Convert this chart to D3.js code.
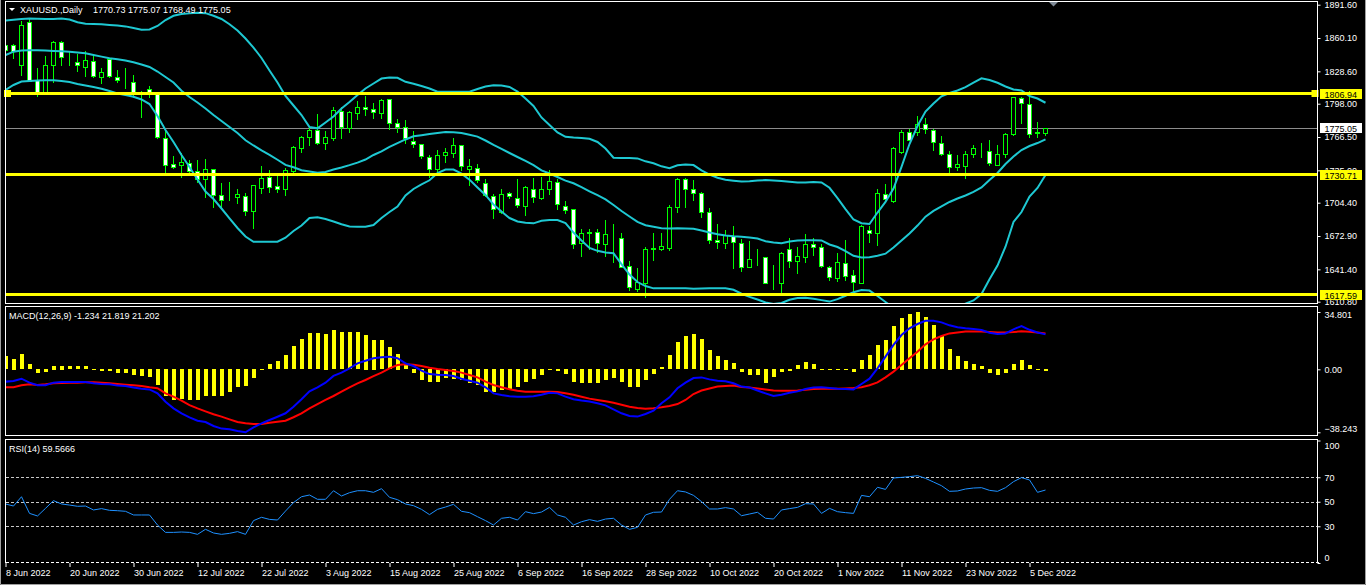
<!DOCTYPE html>
<html><head><meta charset="utf-8">
<script src="https://cdn.jsdelivr.net/npm/d3@7/dist/d3.min.js"></script>
<style>
html,body{margin:0;padding:0;background:#000;overflow:hidden}
svg{display:block}
text{font-family:"Liberation Sans",Arial,sans-serif;font-size:9px}
</style></head><body>
<svg id="c" width="1366" height="585"></svg>
<script>
// ---------- DATA (daily bars, 8 Jun 2022 .. 7 Dec 2022) ----------
const opens = [1853.5,1853.5,1834.6,1874.9,1820.4,1809.3,1834.6,1856.6,1838.4,1837.4,
1833.0,1838.4,1822.9,1840.3,1822.9,1819.5,1818.2,1806.2,1811.6,1806.9,
1765.3,1741.0,1740.0,1741.6,1734.7,1726.5,1736.0,1711.7,1709.1,1710.1,
1711.0,1696.8,1718.6,1729.0,1720.2,1717.1,1734.7,1755.8,1766.2,1773.1,
1761.1,1765.3,1791.1,1774.7,1788.9,1794.6,1792.7,1788.9,1802.1,1780.0,
1776.3,1763.0,1759.6,1747.3,1736.0,1749.2,1751.1,1758.6,1736.0,1736.9,
1723.3,1711.0,1695.9,1713.3,1709.1,1701.6,1717.6,1708.5,1717.6,1724.2,
1701.6,1698.1,1666.0,1675.4,1676.4,1665.1,1672.9,1670.7,1644.8,1622.5,
1628.8,1660.3,1660.9,1661.3,1700.0,1726.5,1717.1,1713.3,1695.9,1669.1,
1666.0,1672.9,1666.0,1643.9,1651.8,1652.8,1629.4,1628.2,1660.3,1649.6,
1653.3,1665.1,1662.2,1643.3,1632.9,1647.1,1635.7,1628.8,1678.6,1675.5,
1712.3,1706.3,1752.6,1771.5,1771.0,1778.5,1773.1,1760.6,1750.2,1737.9,
1739.4,1750.2,1754.9,1753.3,1740.0,1750.4,1769.1,1803.1,1797.4,1771.5,1770.73];
const highs = [1861.3,1855.7,1877.1,1878.7,1833.0,1844.0,1858.2,1858.2,1848.8,1845.6,
1848.8,1844.0,1833.0,1842.4,1830.5,1833.0,1826.1,1810.9,1815.7,1809.3,
1773.1,1749.5,1752.6,1745.4,1745.4,1746.4,1736.9,1724.2,1725.2,1718.0,
1714.8,1721.1,1740.0,1736.0,1733.7,1738.4,1759.0,1768.4,1776.2,1788.9,
1773.1,1795.8,1795.8,1792.0,1801.5,1806.2,1799.9,1803.1,1802.7,1784.2,
1783.2,1773.1,1759.9,1750.4,1754.9,1757.3,1766.8,1759.9,1746.4,1742.2,
1727.5,1713.3,1718.0,1715.7,1727.5,1721.1,1728.4,1729.6,1736.0,1727.5,
1707.0,1699.1,1680.8,1680.8,1680.2,1688.7,1685.5,1676.4,1650.2,1643.9,
1663.4,1677.0,1677.0,1703.2,1729.0,1729.0,1726.5,1715.5,1700.6,1684.9,
1679.2,1683.3,1670.7,1669.1,1661.3,1654.3,1646.4,1659.0,1671.7,1663.4,
1675.5,1671.7,1666.6,1645.5,1657.5,1669.8,1641.4,1684.3,1683.3,1718.0,
1723.3,1758.3,1774.1,1775.3,1787.3,1785.1,1775.3,1768.4,1754.2,1750.4,
1754.2,1759.9,1762.1,1764.3,1759.9,1771.0,1805.3,1805.3,1811.0,1781.6,1775.07];
const lows = [1844.0,1840.9,1825.1,1819.5,1805.3,1809.3,1818.8,1834.6,1834.6,1829.2,
1824.2,1823.5,1817.3,1823.5,1818.8,1812.5,1804.0,1785.7,1804.6,1765.3,
1732.2,1736.9,1729.0,1732.2,1724.2,1710.0,1700.6,1700.6,1707.0,1703.8,
1692.8,1680.8,1713.3,1714.8,1714.8,1711.7,1733.7,1752.6,1759.0,1759.9,
1754.9,1763.7,1765.3,1771.5,1783.2,1787.3,1784.2,1784.2,1773.8,1771.5,
1760.6,1757.3,1746.4,1729.0,1733.7,1743.1,1747.9,1735.3,1721.1,1724.2,
1710.7,1689.7,1694.4,1708.6,1700.0,1692.8,1705.3,1707.6,1712.6,1698.2,
1694.4,1661.3,1654.0,1660.3,1658.1,1654.0,1648.6,1643.9,1621.9,1621.2,
1615.5,1650.2,1659.7,1659.7,1695.9,1700.6,1707.0,1691.2,1666.0,1661.3,
1661.3,1642.9,1640.1,1643.9,1645.5,1628.2,1623.1,1620.3,1643.9,1638.2,
1648.6,1654.9,1643.9,1631.3,1630.7,1631.3,1617.1,1628.2,1667.0,1664.4,
1706.3,1704.8,1751.1,1763.7,1768.4,1770.6,1754.2,1749.5,1732.7,1735.3,
1727.5,1747.9,1747.9,1740.0,1740.0,1747.9,1768.4,1779.5,1766.2,1766.8,1768.49];
const closes = [1848.8,1848.1,1872.4,1819.5,1809.3,1834.6,1856.6,1841.9,1838.8,1834.6,
1839.3,1824.2,1828.2,1824.2,1820.4,1819.4,1807.8,1806.0,1808.4,1766.8,
1740.0,1738.4,1743.2,1734.7,1726.5,1736.0,1711.7,1707.0,1709.0,1712.6,
1696.8,1721.1,1727.4,1719.5,1717.6,1735.0,1757.3,1766.2,1773.1,1761.1,
1766.8,1792.0,1775.7,1790.4,1794.6,1792.7,1789.9,1801.5,1779.5,1776.3,
1765.3,1759.9,1748.5,1736.0,1749.2,1752.6,1758.6,1739.1,1738.8,1725.9,
1711.7,1698.4,1712.3,1710.7,1702.2,1719.5,1709.5,1717.1,1725.2,1703.2,
1697.5,1665.1,1675.5,1676.4,1666.0,1674.5,1672.8,1643.9,1624.4,1629.7,
1660.6,1661.8,1663.4,1700.0,1726.5,1717.1,1713.3,1695.3,1669.1,1666.9,
1673.9,1666.9,1643.9,1650.9,1651.7,1628.8,1629.5,1656.5,1649.6,1654.0,
1665.1,1662.8,1644.8,1634.4,1648.0,1635.1,1629.7,1682.4,1675.5,1713.3,
1707.9,1755.8,1771.5,1763.7,1778.5,1773.8,1761.5,1750.2,1738.4,1740.7,
1750.2,1755.8,1754.8,1741.6,1750.4,1769.1,1804.0,1798.4,1769.1,1770.7,1775.05];

const bbUpper = [1876.5,1877.4,1878.1,1878.6,1878.3,1878.0,1878.0,1878.5,1877.6,1875.0,
1873.7,1873.3,1873.0,1872.4,1871.9,1871.1,1869.6,1868.0,1868.2,1871.5,
1877.1,1881.1,1882.7,1883.4,1884.0,1883.6,1881.1,1878.1,1873.1,1867.2,
1859.6,1851.1,1841.2,1829.4,1818.0,1805.3,1796.3,1787.3,1776.0,1774.7,
1780.2,1785.9,1793.5,1799.6,1806.2,1812.4,1817.1,1821.8,1822.8,1822.5,
1818.7,1816.8,1814.7,1812.4,1809.3,1809.3,1809.3,1809.3,1809.3,1811.9,
1814.3,1815.4,1815.2,1813.8,1809.5,1802.9,1795.8,1785.0,1777.9,1770.8,
1766.7,1766.0,1765.6,1764.8,1761.8,1755.6,1746.9,1746.7,1746.6,1746.3,
1743.5,1741.7,1738.8,1737.0,1739.8,1740.5,1740.0,1735.0,1730.9,1728.0,
1726.1,1725.2,1724.4,1724.7,1725.3,1725.8,1725.4,1724.9,1724.1,1723.4,
1723.6,1724.0,1723.5,1718.5,1708.8,1698.4,1688.5,1685.0,1684.3,1695.1,
1705.1,1717.8,1738.2,1759.9,1776.9,1790.6,1798.2,1805.0,1808.1,1810.5,
1813.6,1818.0,1822.0,1820.4,1817.8,1814.3,1811.4,1810.5,1805.3,1802.9,1798.9];
const bbMiddle = [1844.0,1847.2,1848.2,1848.5,1848.6,1848.3,1847.9,1847.6,1847.1,1846.4,
1845.6,1844.0,1842.5,1841.0,1840.0,1838.8,1837.1,1835.1,1832.7,1828.4,
1823.2,1818.0,1810.2,1804.3,1799.1,1793.4,1787.3,1781.6,1776.0,1770.3,
1763.4,1758.5,1753.9,1749.7,1745.0,1740.2,1737.9,1735.1,1733.9,1732.8,
1733.4,1735.8,1737.7,1739.9,1742.3,1745.2,1749.5,1753.0,1757.1,1760.8,
1764.2,1767.2,1768.2,1769.3,1770.3,1771.2,1771.1,1770.2,1768.6,1766.9,
1763.2,1759.0,1755.2,1751.4,1747.6,1744.0,1740.0,1735.0,1732.0,1728.7,
1725.3,1722.8,1719.1,1715.2,1711.5,1707.6,1702.2,1696.6,1691.4,1686.3,
1683.1,1681.7,1680.2,1680.1,1680.2,1680.0,1679.8,1678.1,1676.2,1674.5,
1673.5,1672.7,1672.2,1671.5,1670.6,1668.0,1666.8,1666.1,1667.7,1668.6,
1668.8,1668.9,1668.7,1664.9,1662.5,1658.7,1654.2,1652.5,1652.8,1654.3,
1656.2,1662.0,1668.7,1675.3,1682.8,1691.2,1696.7,1701.0,1705.1,1708.4,
1711.2,1714.7,1718.8,1725.9,1732.5,1741.0,1748.1,1754.2,1758.0,1760.8,1764.3];
const bbLower = [1811.0,1815.7,1819.0,1819.5,1819.9,1820.2,1820.1,1819.5,1818.5,1816.6,
1815.2,1813.8,1812.1,1810.0,1807.7,1806.2,1804.6,1802.0,1797.7,1786.4,
1773.1,1761.8,1749.5,1738.2,1726.3,1715.0,1707.9,1698.9,1689.5,1680.5,
1672.4,1667.5,1667.5,1667.5,1667.5,1671.3,1677.6,1682.8,1689.9,1690.6,
1689.0,1686.6,1684.0,1681.9,1681.7,1681.7,1683.3,1689.9,1695.6,1700.8,
1711.2,1717.4,1721.8,1725.6,1732.4,1735.8,1735.7,1731.9,1726.2,1718.8,
1711.7,1702.7,1696.1,1689.9,1686.6,1685.4,1684.9,1687.4,1688.0,1688.0,
1685.2,1676.2,1668.7,1661.6,1658.9,1657.3,1656.6,1646.4,1636.5,1629.4,
1625.6,1623.4,1623.5,1623.5,1623.5,1623.5,1623.1,1623.3,1623.5,1623.5,
1623.5,1622.1,1618.3,1615.4,1612.9,1610.1,1608.6,1609.6,1612.6,1614.2,
1614.6,1613.5,1612.3,1610.9,1613.2,1616.4,1619.8,1621.9,1621.3,1616.2,
1610.5,1605.0,1598.0,1591.0,1588.0,1590.0,1594.0,1597.0,1602.0,1606.0,
1609.0,1612.0,1618.0,1632.0,1645.0,1662.8,1686.2,1695.6,1710.3,1718.3,1730.6];

const macdHist = [7.9,6.5,9.3,3.0,-2.2,-1.6,2.2,2.2,1.8,1.8,
1.8,0.3,-1.2,-1.2,-2.2,-2.2,-3.8,-4.3,-4.7,-9.7,
-16.2,-18.8,-18.0,-18.8,-18.8,-16.2,-16.2,-16.2,-13.8,-10.7,
-10.3,-5.3,0.3,3.0,4.9,8.5,14.0,18.2,22.1,22.1,
21.7,23.7,22.7,22.7,22.7,21.1,18.0,17.6,13.6,9.5,
2.5,-2.5,-6.5,-7.7,-7.7,-5.7,-6.1,-6.7,-8.7,-9.7,
-13.8,-13.8,-12.8,-12.3,-11.1,-7.7,-6.3,-3.6,-0.6,-1.0,
-3.0,-7.7,-8.3,-8.3,-8.3,-6.7,-5.7,-7.7,-11.1,-11.1,
-6.7,-3.0,1.4,8.5,16.6,20.0,21.3,18.6,11.9,7.9,
5.9,3.8,-1.6,-3.6,-3.6,-8.3,-4.7,-1.6,-1.0,2.4,
4.3,3.0,0.4,0.3,0.2,-0.5,-1.6,5.5,8.5,14.6,
18.0,26.1,31.4,33.4,34.8,31.8,26.7,20.0,12.6,7.9,
5.1,3.4,1.8,-2.2,-3.6,-2.2,3.4,5.9,2.4,0.1,-1.234];
const macdMain = [-7.5,-7.1,-5.7,-8.1,-9.7,-9.7,-8.1,-7.7,-7.7,-7.7,
-7.7,-8.5,-8.9,-9.1,-9.9,-10.1,-11.0,-11.8,-12.2,-14.6,
-19.7,-23.7,-26.7,-29.2,-31.2,-32.0,-34.4,-36.0,-36.4,-37.5,
-38.2,-35.2,-32.8,-30.8,-28.8,-26.7,-22.7,-18.2,-13.4,-10.9,
-8.1,-4.0,-2.0,0.6,3.6,5.2,6.7,7.3,7.7,6.7,
3.6,2.0,-0.8,-2.9,-3.3,-3.5,-4.1,-5.7,-6.9,-8.1,
-10.9,-14.6,-15.6,-16.4,-16.6,-16.6,-16.4,-15.4,-14.2,-14.6,
-16.6,-18.2,-19.0,-19.6,-20.6,-21.9,-24.3,-26.7,-28.3,-28.7,
-27.1,-25.1,-20.6,-17.0,-11.5,-8.1,-5.3,-4.9,-6.1,-6.9,
-7.3,-8.5,-10.5,-11.1,-12.9,-14.6,-16.2,-15.4,-14.2,-13.4,
-12.0,-11.1,-10.9,-11.3,-11.8,-12.0,-12.2,-8.9,-5.7,0.6,
7.7,14.8,20.8,24.9,27.5,29.5,29.5,28.5,26.7,25.5,
24.9,24.5,23.9,22.2,21.4,21.8,24.3,26.3,24.0,22.4,21.202];
const macdSignal = [-10.9,-10.9,-9.7,-9.1,-9.5,-9.1,-8.5,-8.3,-8.1,-8.1,
-7.9,-7.9,-8.1,-8.5,-8.9,-9.3,-9.7,-10.1,-10.9,-11.5,
-14.6,-16.6,-19.0,-21.7,-23.7,-25.5,-27.3,-28.7,-30.4,-32.0,
-32.8,-33.2,-33.2,-32.4,-31.8,-31.2,-29.1,-26.7,-23.7,-21.1,
-18.6,-16.2,-13.6,-10.9,-8.5,-6.5,-4.1,-2.0,0.6,2.6,
3.0,2.8,2.0,1.0,0.2,-0.4,-1.0,-2.0,-3.5,-4.9,
-7.5,-9.5,-10.9,-12.1,-13.0,-13.6,-13.6,-13.6,-13.6,-13.8,
-14.6,-15.4,-16.6,-17.8,-18.6,-19.4,-20.3,-21.5,-22.7,-23.5,
-23.9,-23.7,-23.1,-22.3,-21.1,-18.6,-15.0,-12.9,-11.6,-10.5,
-10.1,-9.9,-10.7,-11.1,-11.6,-12.2,-12.8,-13.0,-13.0,-12.8,
-12.4,-12.0,-11.8,-11.8,-11.8,-11.6,-11.4,-10.9,-9.7,-7.9,
-4.9,-1.4,2.6,6.7,10.7,15.2,18.2,20.2,21.8,22.4,
22.9,22.9,22.9,22.6,22.4,22.4,22.6,23.1,22.8,22.4,21.819];
const rsiValues = [48.2,46.5,54.1,40.5,38.4,44.6,50.9,48.2,47.3,46.3,
46.5,43.3,44.4,43.0,42.7,42.2,39.2,39.2,39.2,31.0,
25.0,25.0,25.3,25.0,23.4,27.5,24.5,23.4,24.2,25.6,
23.4,34.6,37.3,35.6,35.1,42.4,49.3,54.1,55.5,52.0,
52.0,59.0,54.7,57.4,59.0,59.0,57.7,60.7,53.6,51.7,
48.2,46.8,43.8,39.5,43.8,45.7,47.9,42.2,41.1,37.8,
34.6,31.0,36.5,37.3,35.1,41.9,40.3,41.6,45.4,39.2,
37.3,31.0,33.7,35.4,34.0,35.9,36.5,31.0,27.5,29.1,
39.2,41.4,41.6,52.0,59.0,58.0,55.2,50.1,44.1,44.1,
45.2,44.1,38.6,40.0,41.4,36.5,35.9,43.3,44.4,45.4,
48.4,48.2,40.5,44.6,41.9,41.1,40.5,55.2,54.1,61.8,
60.1,69.4,69.9,70.5,71.3,69.1,66.1,63.1,58.5,58.8,
60.4,61.2,61.5,59.3,58.5,61.5,66.4,69.7,67.8,57.7,59.5666];

const dateTickIndex = [0,8,16,24,32,40,48,56,64,72,80,88,96,104,112,120,128];
const dateTickLabels = ["8 Jun 2022","20 Jun 2022","30 Jun 2022","12 Jul 2022","22 Jul 2022","3 Aug 2022",
"15 Aug 2022","25 Aug 2022","6 Sep 2022","16 Sep 2022","28 Sep 2022","10 Oct 2022","20 Oct 2022",
"1 Nov 2022","11 Nov 2022","23 Nov 2022","5 Dec 2022"];
const priceTicks = [1891.60,1860.10,1828.60,1798.00,1766.50,1735.00,1704.40,1672.90,1641.40,1610.80];
const levelPrices = [1806.94,1730.71,1617.59];
const lastPrice = 1775.05;
const macdTicks = [34.801,0.00,-38.243];
const rsiTicks = [100,70,50,30,0];
const rsiLevels = [70,50,30];
const headerName = "XAUUSD.,Daily";
const headerOHLC = "1770.73 1775.07 1768.49 1775.05";
const macdText = "MACD(12,26,9) -1.234 21.819 21.202";
const rsiText = "RSI(14) 59.5666";

// ---------- CHART ----------
const N = closes.length;
[opens,highs,lows,bbUpper,bbMiddle,bbLower,macdHist,macdMain,macdSignal,rsiValues].forEach((a,k)=>{
  if(a.length!==N) throw new Error("array "+k+" length "+a.length+" != "+N);
});
const svg = d3.select("#c");
const FR = 1317.5; // right frame
svg.append("rect").attr("width",1366).attr("height",585).attr("fill","#000");

const x = d3.scaleLinear().domain([0,130]).range([5.5,1045.5]);
const yP = d3.scaleLinear().domain([1610.8,1891.6]).range([301.7,4.7]);
const yM = d3.scaleLinear().domain([-38.243,34.801]).range([432.3,312.0]);
const yR = d3.scaleLinear().domain([0,100]).range([563,440.5]);
const px = v => Math.round(v)+0.5;

const defs = svg.append("defs");
defs.append("clipPath").attr("id","cm").append("rect").attr("x",6).attr("y",2).attr("width",FR-6).attr("height",301.5);
defs.append("clipPath").attr("id","cd").append("rect").attr("x",6).attr("y",307).attr("width",FR-6).attr("height",128);
defs.append("clipPath").attr("id","cr").append("rect").attr("x",6).attr("y",440).attr("width",FR-6).attr("height",122.5);

// window border
svg.append("path").attr("d","M0.5,0V584.5H1365.5V0").attr("fill","none").attr("stroke","#a0a0a0");

// ----- main panel -----
const gm = svg.append("g").attr("clip-path","url(#cm)");
gm.append("line").attr("x1",5).attr("x2",FR).attr("y1",px(yP(lastPrice))).attr("y2",px(yP(lastPrice)))
  .attr("stroke","#8c8c8c").attr("stroke-width",1);

const candles = gm.append("g").attr("shape-rendering","crispEdges");
d3.range(N).forEach(i=>{
  const cx = x(i);
  candles.append("line").attr("x1",cx).attr("x2",cx)
    .attr("y1",px(yP(highs[i]))).attr("y2",px(yP(lows[i])))
    .attr("stroke","#00ff00");
  const t = px(yP(Math.max(opens[i],closes[i]))), b = px(yP(Math.min(opens[i],closes[i])));
  const bull = closes[i] >= opens[i];
  candles.append("rect").attr("x",cx-2).attr("width",4)
    .attr("y",t).attr("height",Math.max(0,b-t))
    .attr("fill", bull ? "#000" : "#fff").attr("stroke","#00ff00");
});

const lineP = d3.line().x((d,i)=>x(i)).y(d=>yP(d));
[bbUpper,bbMiddle,bbLower].forEach(arr=>{
  gm.append("path").attr("d",lineP(arr)).attr("fill","none")
    .attr("stroke","#1ec8d2").attr("stroke-width",2);
});

// horizontal levels
levelPrices.forEach(p=>{
  gm.append("line").attr("x1",5).attr("x2",FR).attr("y1",Math.round(yP(p))-0.5).attr("y2",Math.round(yP(p))-0.5)
    .attr("stroke","#ffff00").attr("stroke-width",3);
});
// selection handles on first level
svg.append("rect").attr("x",4).attr("y",Math.round(yP(levelPrices[0]))-4).attr("width",7).attr("height",7).attr("fill","#ffff00");
svg.append("rect").attr("x",FR-6).attr("y",Math.round(yP(levelPrices[0]))-4).attr("width",7).attr("height",7).attr("fill","#ffff00");

// header
svg.append("path").attr("d","M9,8H15L12,11Z").attr("fill","#fff");
svg.append("text").attr("x",20).attr("y",12.5).attr("fill","#fff").text(headerName);
svg.append("text").attr("x",93).attr("y",12.5).attr("fill","#fff").text(headerOHLC);
// shift marker
svg.append("path").attr("d","M1048.5,1.5H1058.5L1053.5,6.5Z").attr("fill","#7f8a96");

// ----- MACD panel -----
const gd = svg.append("g").attr("clip-path","url(#cd)");
gd.append("g").attr("shape-rendering","crispEdges").selectAll("rect").data(macdHist).join("rect")
  .attr("x",(d,i)=>x(i)-2).attr("width",4)
  .attr("y",d=>Math.round(Math.min(yM(0),yM(d))))
  .attr("height",d=>Math.max(1,Math.round(Math.abs(yM(d)-yM(0)))))
  .attr("fill","#ffff00");
const lineM = d3.line().x((d,i)=>x(i)).y(d=>yM(d));
gd.append("path").attr("d",lineM(macdSignal)).attr("fill","none").attr("stroke","#ff0000").attr("stroke-width",2);
gd.append("path").attr("d",lineM(macdMain)).attr("fill","none").attr("stroke","#0000ff").attr("stroke-width",2);
svg.append("text").attr("x",9).attr("y",318.5).attr("fill","#fff").text(macdText);

// ----- RSI panel -----
const gr = svg.append("g");
rsiLevels.forEach(v=>{
  gr.append("line").attr("x1",6).attr("x2",FR).attr("y1",px(yR(v))).attr("y2",px(yR(v)))
    .attr("stroke","#c8c8c8").attr("stroke-dasharray","3,2");
});
gr.append("path").attr("clip-path","url(#cr)")
  .attr("d",d3.line().x((d,i)=>x(i)).y(d=>yR(d))(rsiValues))
  .attr("fill","none").attr("stroke","#1e90ff").attr("stroke-width",1);
svg.append("text").attr("x",9).attr("y",452).attr("fill","#fff").text(rsiText);

// ----- frames -----
const fr = svg.append("g").attr("fill","none").attr("stroke","#fff").attr("shape-rendering","crispEdges");
fr.append("rect").attr("x",5.5).attr("y",1.5).attr("width",FR-5.5).attr("height",302);
fr.append("rect").attr("x",5.5).attr("y",306.5).attr("width",FR-5.5).attr("height",129);
fr.append("path").attr("d",`M5.5,562.5V439.5H${FR}V562.5`);
fr.append("line").attr("x1",5.5).attr("x2",FR+3).attr("y1",562.5).attr("y2",562.5).attr("stroke-dasharray","3,2");

// ----- axes -----
const axP = svg.append("g").attr("transform",`translate(${FR},0)`)
  .call(d3.axisRight(yP).tickValues(priceTicks).tickSize(3).tickPadding(4).tickFormat(d3.format(".2f")));
const axM = svg.append("g").attr("transform",`translate(${FR},0)`)
  .call(d3.axisRight(yM).tickValues(macdTicks).tickSize(3).tickPadding(4)
    .tickFormat(d=> d===0 ? "0.00" : d3.format(".3f")(d)));
const axR = svg.append("g").attr("transform",`translate(${FR},0)`)
  .call(d3.axisRight(yR).tickValues(rsiTicks).tickSize(3).tickPadding(4).tickFormat(d3.format("d")));
const axX = svg.append("g").attr("transform","translate(0,563)")
  .call(d3.axisBottom(x).tickValues(dateTickIndex).tickSize(4).tickPadding(3)
    .tickFormat((d,i)=>dateTickLabels[i]));
[axP,axM,axR,axX].forEach(a=>{
  a.select(".domain").remove();
  a.selectAll("line").attr("stroke","#fff");
  a.selectAll("text").attr("fill","#fff").attr("font-size","9px")
    .attr("font-family","'Liberation Sans',Arial,sans-serif");
});
axX.selectAll("text").attr("text-anchor","start");
axM.selectAll(".tick").filter(d=>d===34.801).select("text").attr("dy","0.6em");
axM.selectAll(".tick").filter(d=>d===-38.243).select("text").attr("dy","-0.1em");
axR.selectAll(".tick").filter(d=>d===100).select("text").attr("dy","0.9em");
axR.selectAll(".tick").filter(d=>d===0).select("text").attr("dy","-0.3em");

// price boxes
function priceBox(p, bg){
  const yy = Math.round(yP(p));
  svg.append("rect").attr("x",1320).attr("y",yy-5).attr("width",42).attr("height",10).attr("fill",bg);
  svg.append("text").attr("x",1324.5).attr("y",yy+3.5).attr("fill","#000").text(d3.format(".2f")(p));
}
levelPrices.forEach(p=>priceBox(p,"#ffff00"));
priceBox(lastPrice,"#ffffff");
</script>
</body></html>
